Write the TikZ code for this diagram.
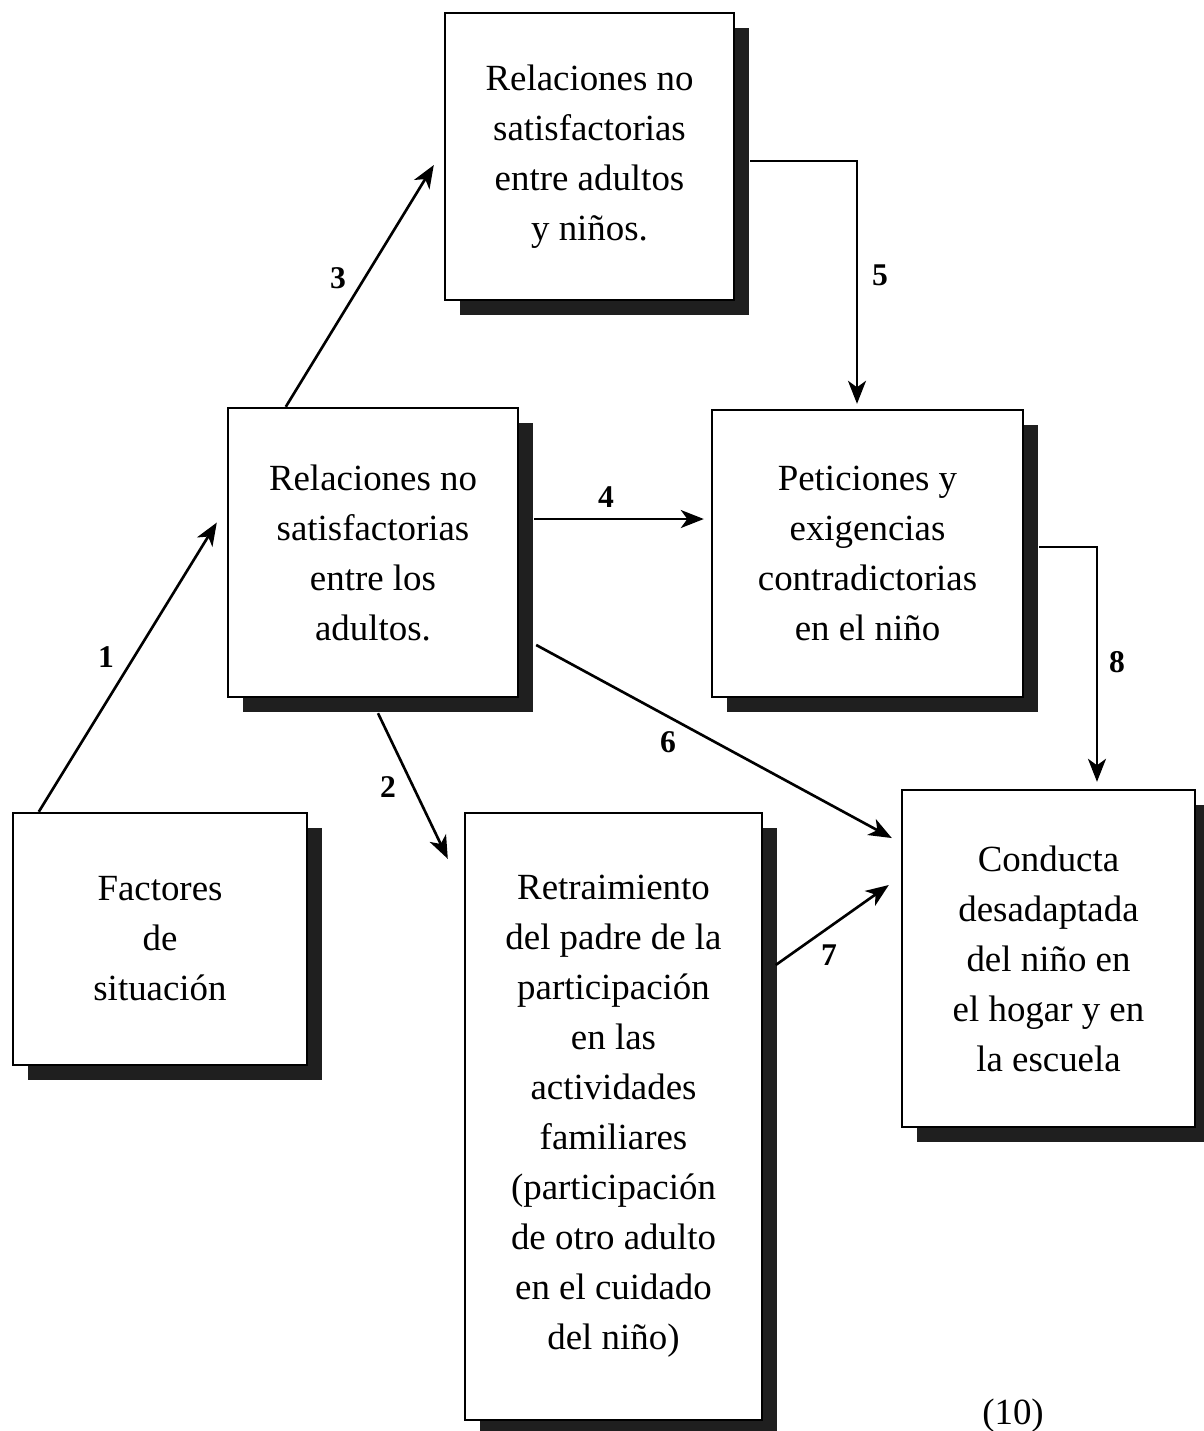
\documentclass[tikz,border=0pt]{standalone}
\usepackage{fontspec}
\setmainfont{Liberation Serif}
\usetikzlibrary{arrows.meta,shadows}
\begin{document}
\begin{tikzpicture}[x=0.02cm,y=-0.02cm,
  box/.style={draw=black, line width=1.4pt, fill=white, align=center, inner sep=0pt,
    font=\fontsize{21}{28.45}\selectfont,
    drop shadow={shadow xshift=0.3cm, shadow yshift=-0.3cm, fill=black!88, opacity=1}},
  arr/.style={line width=1.5pt, -{Stealth[length=0.46cm, width=0.36cm, inset=0.13cm]}},
  num/.style={font=\fontsize{18}{20}\selectfont\bfseries, inner sep=0pt}]
\useasboundingbox (0,0) rectangle (1204,1431);
% boxes
\node[box, minimum width=5.78cm, minimum height=5.74cm] (A) at (589.5,156.5)
  {Relaciones no\\satisfactorias\\entre adultos\\y niños.};
\node[box, minimum width=5.80cm, minimum height=5.78cm] (B) at (373,552.5)
  {Relaciones no\\satisfactorias\\entre los\\adultos.};
\node[box, minimum width=6.22cm, minimum height=5.74cm] (C) at (867.5,553.5)
  {Peticiones y\\exigencias\\contradictorias\\en el niño};
\node[box, minimum width=5.88cm, minimum height=5.04cm] (D) at (160,939)
  {Factores\\de\\situación};
\node[box, minimum width=5.94cm, minimum height=12.14cm] (E) at (613.5,1116.5)
  {Retraimiento\\del padre de la\\participación\\en las\\actividades\\familiares\\(participación\\de otro adulto\\en el cuidado\\del niño)};
\node[box, minimum width=5.86cm, minimum height=6.74cm] (F) at (1048.5,958.5)
  {Conducta\\desadaptada\\del niño en\\el hogar y en\\la escuela};
% connectors
\draw[arr] ([xshift=0.54cm]D.north west) -- ([xshift=-0.2cm,yshift=0.6cm]B.west);
\draw[arr] ([xshift=1.18cm]B.north west) -- ([xshift=-0.2cm,yshift=-0.17cm]A.west);
\coordinate (s4) at ([xshift=0.3cm,yshift=0.67cm]B.east);
\coordinate (e4) at ([xshift=-0.14cm]C.west);
\draw[arr] (s4) -- (s4 -| e4);
\draw[arr] ([xshift=0.3cm,yshift=-0.09cm]A.east) -| ([xshift=-0.21cm,yshift=0.1cm]C.north);
\draw[arr] ([xshift=0.3cm,yshift=0.13cm]C.east) -| ([xshift=0.97cm,yshift=0.14cm]F.north);
\draw[arr] ([xshift=0.1cm,yshift=-0.3cm]B.south) -- ([xshift=-0.32cm,yshift=-0.94cm]E.north west);
\draw[arr] ([xshift=0.34cm,yshift=-1.85cm]B.east) -- ([xshift=-0.18cm,yshift=2.41cm]F.west);
\draw[arr] ([xshift=0.25cm,yshift=3.03cm]E.east) -- ([xshift=-0.24cm,yshift=1.47cm]F.west);
% labels
\node[num] (l1) at (106,657) {1};
\node[num] (l2) at (388,787) {2};
\node[num] (l3) at (338,278) {3};
\node[num] (l4) at (606,497) {4};
\node[num] (l5) at (880,275) {5};
\node[num] (l6) at (668,742) {6};
\node[num] (l7) at (829,955) {7};
\node[num] (l8) at (1117,662) {8};
\node[font=\fontsize{21}{24}\selectfont, inner sep=0pt] (ref) at (1013,1416) {(10)};
\end{tikzpicture}
\end{document}
